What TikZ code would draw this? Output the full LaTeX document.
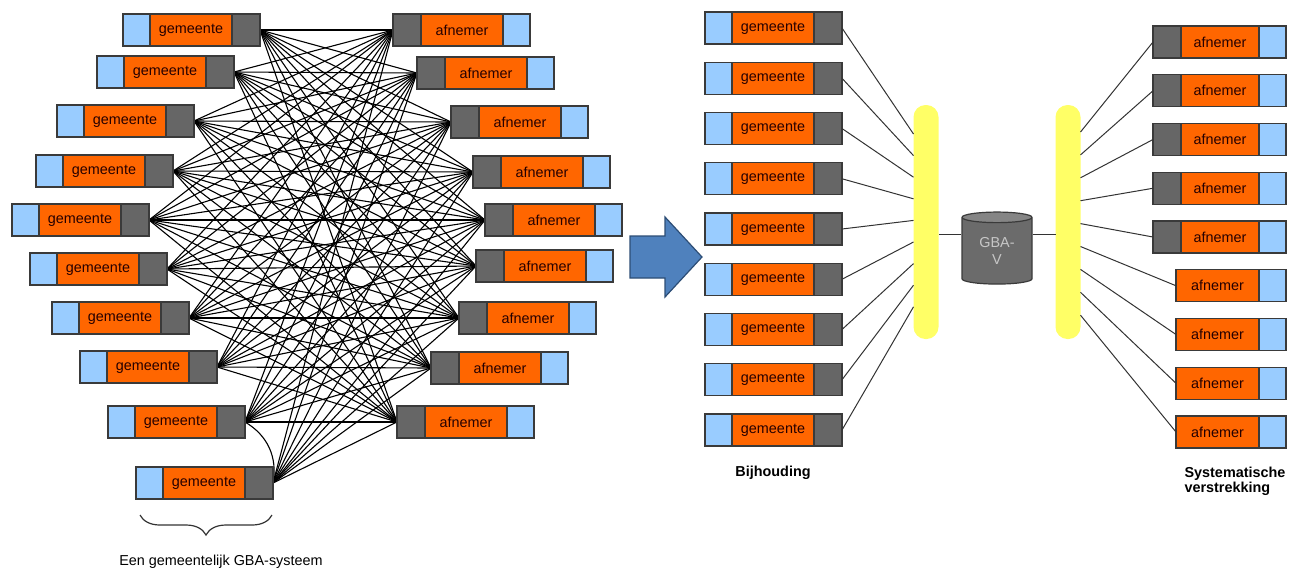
\documentclass[tikz,border=0pt]{standalone}
\usepackage{fontspec}
\setmainfont{Liberation Sans}
\usetikzlibrary{positioning,shapes.geometric,decorations.pathreplacing,backgrounds}

\definecolor{boxorange}{HTML}{FF6600}
\definecolor{boxblue}{HTML}{99CCFF}
\definecolor{boxgray}{HTML}{666666}
\definecolor{boxline}{HTML}{3A3A3A}
\definecolor{busyellow}{HTML}{FFFF66}
\definecolor{arrowblue}{HTML}{4F81BD}
\definecolor{arrowline}{HTML}{2C4D75}
\definecolor{dbbody}{HTML}{6B6B6B}
\definecolor{dbtop}{HTML}{858585}

\tikzstyle{namebox} = [draw=boxline, fill=boxorange, rectangle, minimum width=41pt, minimum height=16pt, inner sep=0pt, outer sep=0pt, line width=0.6pt, text=black!85!red]
\tikzstyle{blueend} = [draw=boxline, fill=boxblue, rectangle, minimum width=13.5pt, minimum height=16pt, inner sep=0pt, outer sep=0pt, line width=0.6pt]
\tikzstyle{grayend} = [draw=boxline, fill=boxgray, rectangle, minimum width=14pt, minimum height=16pt, inner sep=0pt, outer sep=0pt, line width=0.6pt]
\tikzstyle{web} = [line width=0.55pt, black]
\tikzstyle{link} = [line width=0.5pt, black!80]
\tikzstyle{bus} = [fill=busyellow, rectangle, rounded corners=6pt, minimum width=12.5pt, minimum height=117pt, inner sep=0pt]
\tikzstyle{db} = [cylinder, shape border rotate=90, aspect=0.3, draw=boxline, line width=0.6pt, minimum width=35pt, minimum height=36pt, inner sep=0pt, cylinder uses custom fill, cylinder body fill=dbbody, cylinder end fill=dbtop, text=black!22, align=center]
\tikzstyle{caption} = [font=\fontsize{7.2pt}{7.4pt}\selectfont\bfseries, align=left]

\begin{document}
\begin{tikzpicture}[x=0.5pt, y=-0.5pt, font=\fontsize{7.2pt}{8.6pt}\selectfont]
    \useasboundingbox (0,0) rectangle (1297,570);

    % ieder met ieder
    \foreach \x/\y [count=\i] in {123/30,97/72,57/121,36/171,12/220,30/269,52/318,80/367,108/422,136/483} {
        \node [namebox] (g\i) at (\x+68,\y) {gemeente};
        \node [blueend, left=0pt of g\i] (gb\i) {};
        \node [grayend, right=0pt of g\i] (gr\i) {};
    }
    \foreach \x/\y [count=\i] in {393/30,417/73,451/122,473/172,485/220,476/266,459/318,431/368,397/422} {
        \node [namebox] (a\i) at (\x+69,\y) {afnemer};
        \node [grayend, left=0pt of a\i] (ap\i) {};
        \node [blueend, right=0pt of a\i] (ab\i) {};
    }

    \begin{pgfonlayer}{background}
        \foreach \i in {1,...,10}
            \foreach \j in {1,...,9}
                \draw[web] (gr\i.east) -- (ap\j.west);
        \draw[web] (gr9.east) to[bend left=35] (gr10.east);
    \end{pgfonlayer}

    \draw[decorate, decoration={brace, amplitude=10pt}, line width=0.6pt, black!80] (272,515) -- (140,515);
    \node (onderschrift) at (221,562) {Een gemeentelijk GBA-systeem};

    % pijl
    \filldraw[fill=arrowblue, draw=arrowline, line width=0.6pt] (630,236) -- (665,236) -- (665,217) -- (702,257) -- (665,297) -- (665,278) -- (630,278) -- cycle;

    % via GBA-V
    \foreach \i in {1,...,9} {
        \node [namebox] (rg\i) at (773,{28+50.25*(\i-1)}) {gemeente};
        \node [blueend, left=0pt of rg\i] (rgb\i) {};
        \node [grayend, right=0pt of rg\i] (rgr\i) {};
    }
    \foreach \i in {1,...,5} {
        \node [namebox, minimum width=39pt] (ra\i) at (1220,{42+48.75*(\i-1)}) {afnemer};
        \node [grayend, left=0pt of ra\i] (rap\i) {};
        \node [blueend, right=0pt of ra\i] (rab\i) {};
    }
    \foreach \i in {6,...,9} {
        \node [namebox, minimum width=41.5pt] (ra\i) at (1217.5,{42+48.75*(\i-1)}) {afnemer};
        \node [blueend, right=0pt of ra\i] (rab\i) {};
    }

    \node [bus] (busL) at (926,222) {};
    \node [bus] (busR) at (1068,222) {};
    \node [db] (gbav) at (997,251) {GBA-\\V};

    \coordinate (hubL) at (939,234);
    \coordinate (hubR) at (1056,234);
    \draw[link] (hubL) -- (gbav.west |- hubL);
    \draw[link] (gbav.east |- hubR) -- (hubR);

    \foreach \i in {1,...,9} {
        \coordinate (inL\i) at (913.5,{134+21.6*(\i-1)});
        \coordinate (outR\i) at (1080.5,{132+22.9*(\i-1)});
        \draw[link] (rgr\i.east) -- (inL\i);
    }
    \foreach \i in {1,...,5}
        \draw[link] (outR\i) -- (rap\i.west);
    \foreach \i in {6,...,9}
        \draw[link] (outR\i) -- (ra\i.west);

    \node [caption] (bijh) at (773,473) {Bijhouding};
    \node [caption] (verstr) at (1235,481) {Systematische\\verstrekking};
\end{tikzpicture}
\end{document}
